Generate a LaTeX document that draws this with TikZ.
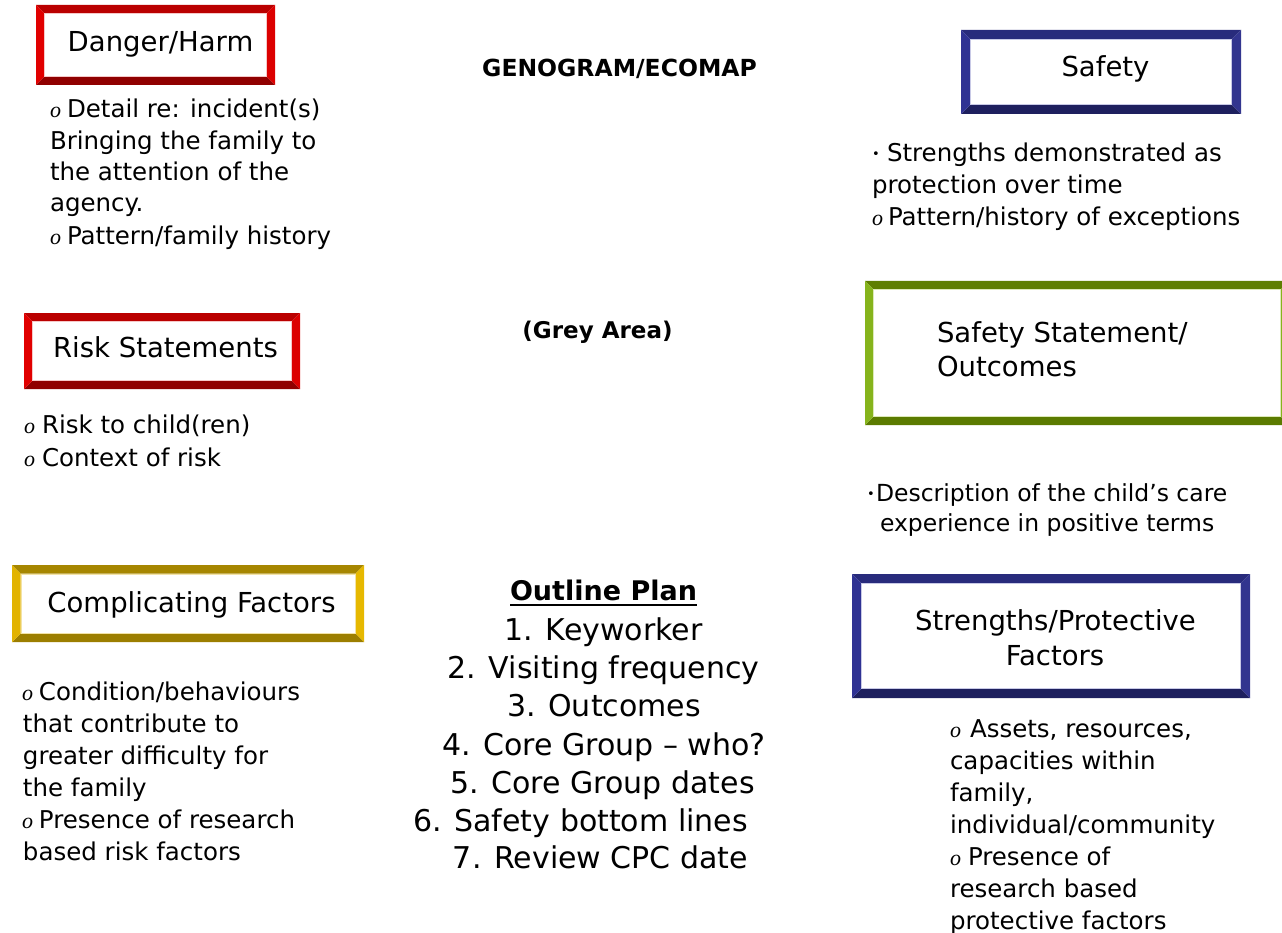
\documentclass[tikz,border=0pt]{standalone}
\usepackage{fontspec}
\setmainfont{DejaVu Sans}
\newfontfamily\bulf{Liberation Serif}
\usetikzlibrary{calc}
\definecolor{rL}{HTML}{E10000}\definecolor{rT}{HTML}{BA0000}\definecolor{rR}{HTML}{DC0000}\definecolor{rB}{HTML}{900000}\definecolor{rH}{HTML}{F6C8C8}
\definecolor{nL}{HTML}{2F3293}\definecolor{nT}{HTML}{282B7C}\definecolor{nR}{HTML}{32358F}\definecolor{nB}{HTML}{1E205E}\definecolor{nH}{HTML}{C8C9E6}
\definecolor{gL}{HTML}{86B41C}\definecolor{gT}{HTML}{5E7E00}\definecolor{gR}{HTML}{86B41C}\definecolor{gB}{HTML}{5B7B00}\definecolor{gH}{HTML}{DDE9B8}
\definecolor{yL}{HTML}{E2B300}\definecolor{yT}{HTML}{A68600}\definecolor{yR}{HTML}{E6B800}\definecolor{yB}{HTML}{9C7E00}\definecolor{yH}{HTML}{F3E3A6}
\newcommand{\obul}{{\bulf\itshape\fontsize{22}{22}\selectfont o}}
\newcommand{\ob}[1]{\makebox[#1][l]{\obul}}
\newcommand{\sdot}{\raisebox{3pt}{\fontsize{13}{13}\selectfont •}}
% bevel frame drawn around a named node: #1 node, #2 width, #3 left, #4 top, #5 right, #6 bottom, #7 highlight
\newcommand{\bevelframe}[7]{%
  \fill[#4] (#1.north west) -- (#1.north east) -- ([shift={(-#2,#2)}]#1.north east) -- ([shift={(#2,#2)}]#1.north west) -- cycle;
  \fill[#6] (#1.south west) -- (#1.south east) -- ([shift={(-#2,-#2)}]#1.south east) -- ([shift={(#2,-#2)}]#1.south west) -- cycle;
  \fill[#3] (#1.north west) -- ([shift={(#2,#2)}]#1.north west) -- ([shift={(#2,-#2)}]#1.south west) -- (#1.south west) -- cycle;
  \fill[#5] (#1.north east) -- ([shift={(-#2,#2)}]#1.north east) -- ([shift={(-#2,-#2)}]#1.south east) -- (#1.south east) -- cycle;
  \draw[#7, line width=0.8pt] ([shift={(#2+0.4,#2+0.4)}]#1.north west) rectangle ([shift={(-#2-0.4,-#2-0.4)}]#1.south east);
}
\begin{document}
\begin{tikzpicture}[x=1pt,y=-1pt,
  every node/.style={inner sep=0pt, outer sep=0pt},
  frame/.style={minimum width=#1},
  ttl/.style={anchor=base, font=\fontsize{27.5}{33}\selectfont},
  ttlw/.style={anchor=base west, font=\fontsize{27.5}{33}\selectfont},
  bodyl/.style={anchor=base west, font=\fontsize{24.5}{30}\selectfont},
  head/.style={anchor=base, font=\fontsize{23.5}{28}\selectfont\bfseries},
  plan/.style={anchor=base, font=\fontsize{30}{36}\selectfont}]
\useasboundingbox (0,0) rectangle (1282,933);
\clip (0,0) rectangle (1282,933);
\fill[white] (0,0) rectangle (1282,933);

% ---------- boxes ----------
\node[frame=239pt, minimum height=80pt] (dangerbox) at (155.5,45) {};
\node[frame=276pt, minimum height=76pt] (riskbox) at (162,351) {};
\node[frame=352pt, minimum height=77pt] (compbox) at (188,603.5) {};
\node[frame=280pt, minimum height=84pt] (safebox) at (1101,72) {};
\node[frame=424pt, minimum height=144pt] (stmtbox) at (1077,353) {};
\node[frame=398pt, minimum height=124pt] (strbox) at (1051,636) {};

\bevelframe{dangerbox}{8}{rL}{rT}{rR}{rB}{rH}
\bevelframe{riskbox}{8}{rL}{rT}{rR}{rB}{rH}
\bevelframe{compbox}{8.5}{yL}{yT}{yR}{yB}{yH}
\bevelframe{safebox}{9}{nL}{nT}{nR}{nB}{nH}
\bevelframe{stmtbox}{8}{gL}{gT}{gR}{gB}{gH}
\bevelframe{strbox}{9}{nL}{nT}{nR}{nB}{nH}

% ---------- box titles ----------
\node[ttl] (dangert) at (160.5,52) {Danger/Harm};
\node[ttl] (riskt) at (165.5,357) {Risk Statements};
\node[ttl] (compt) at (191.5,612) {Complicating Factors};
\node[ttl] (safet) at (1105.5,77) {Safety};
\node[ttlw] (stmtt1) at (937,342) {Safety Statement/};
\node[ttlw] (stmtt2) at (937,376) {Outcomes};
\node[ttl] (strt1) at (1055.5,630) {Strengths/Protective};
\node[ttl] (strt2) at (1055,665) {Factors};

% ---------- centre headings ----------
\node[head] (geno) at (619.5,77) {GENOGRAM/ECOMAP};
\node[head, font=\fontsize{23}{28}\selectfont\bfseries] (grey) at (597.5,338) {(Grey Area)};

% ---------- Danger text ----------
\node[bodyl] (d1) at (50,118) {\ob{17pt}Detail re: incident(s)};
\node[bodyl] (d2) at (50,150) {Bringing the family to};
\node[bodyl] (d3) at (50,181) {the attention of the};
\node[bodyl] (d4) at (50,212) {agency.};
\node[bodyl] (d5) at (50,245) {\ob{17pt}Pattern/family history};

% ---------- Risk text ----------
\node[bodyl] (r1) at (24,433) {\ob{18pt}Risk to child(ren)};
\node[bodyl] (r2) at (24,466) {\ob{18pt}Context of risk};

% ---------- Complicating text ----------
\node[bodyl] (c1) at (22,700) {\ob{17pt}Condition/behaviours};
\node[bodyl] (c2) at (23,732) {that contribute to};
\node[bodyl] (c3) at (23,764) {greater difficulty for};
\node[bodyl] (c4) at (23,796) {the family};
\node[bodyl] (c5) at (22,828) {\ob{17pt}Presence of research};
\node[bodyl] (c6) at (23,860) {based risk factors};

% ---------- Safety text ----------
\node[bodyl] (s1) at (872,162) {\makebox[15pt][l]{\sdot}Strengths demonstrated as};
\node[bodyl] (s2) at (872,194) {protection over time};
\node[bodyl] (s3) at (872,226) {\ob{16pt}Pattern/history of exceptions};

% ---------- Safety statement text ----------
\node[bodyl, font=\fontsize{23.5}{30}\selectfont] (o1) at (867,501) {\makebox[9pt][l]{\sdot}Description of the child’s care};
\node[bodyl, font=\fontsize{23.5}{30}\selectfont] (o2) at (880,531) {experience in positive terms};

% ---------- Strengths text ----------
\node[bodyl] (p1) at (950,737) {\ob{20pt}Assets, resources,};
\node[bodyl] (p2) at (950,769) {capacities within};
\node[bodyl] (p3) at (950,801) {family,};
\node[bodyl] (p4) at (950,833) {individual/community};
\node[bodyl] (p5) at (950,865) {\ob{18pt}Presence of};
\node[bodyl] (p6) at (950,897) {research based};
\node[bodyl] (p7) at (950,929) {protective factors};

% ---------- Outline plan ----------
\node[anchor=base, font=\fontsize{27}{32}\selectfont\bfseries] (outl) at (603.5,600) {Outline Plan};
\draw[line width=2pt] ([yshift=-5pt]outl.base west) -- ([yshift=-5pt]outl.base east);
\node[plan] (k1) at (603.5,640) {1. Keyworker};
\node[plan] (k2) at (603.5,678) {2. Visiting frequency};
\node[plan] (k3) at (604,716) {3. Outcomes};
\node[plan] (k4) at (604,755) {4. Core Group – who?};
\node[plan] (k5) at (602.5,793) {5. Core Group dates};
\node[plan] (k6) at (580.5,831) {6. Safety bottom lines};
\node[plan] (k7) at (600.5,868) {7. Review CPC date};
\end{tikzpicture}
\end{document}
